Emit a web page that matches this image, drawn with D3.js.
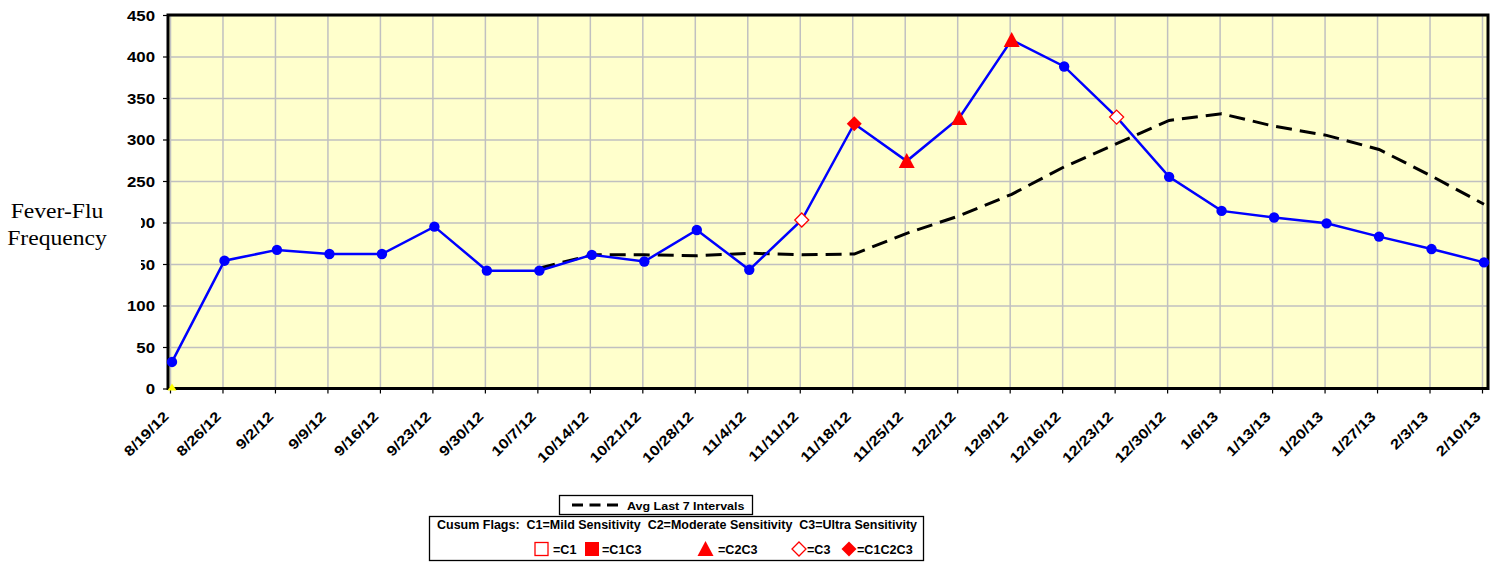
<!DOCTYPE html>
<html>
<head>
<meta charset="utf-8">
<script src="https://cdn.jsdelivr.net/npm/d3@7"></script>
<style>
  html, body { margin: 0; padding: 0; background: #fff; }
  svg { display: block; }
</style>
</head>
<body>
<svg id="chart" width="1499" height="563"></svg>
<script>
// ---------------- data ----------------
const categories = ["8/19/12","8/26/12","9/2/12","9/9/12","9/16/12","9/23/12","9/30/12","10/7/12",
  "10/14/12","10/21/12","10/28/12","11/4/12","11/11/12","11/18/12","11/25/12","12/2/12","12/9/12",
  "12/16/12","12/23/12","12/30/12","1/6/13","1/13/13","1/20/13","1/27/13","2/3/13","2/10/13"];
const feverFlu = [32,154,167,162,162,195,142,142,161,153,191,143,203,319,274,326,420,388,327,255,214,206,199,183,168,152];
const avgLast7 = [null,null,null,null,null,null,null,145,161,161,160,163,161,162,187,208,234,267,295,323,331,316,305,288,256,222];
const cusumFlags = ["","","","","","","","","","","","","C3","C1C2C3","C2C3","C2C3","C2C3","","C3","","","","","","",""];
const baselineFlagCats = ["8/19/12"];
const baselineFlagVals = [0];
const yTicks = [0,50,100,150,200,250,300,350,400,450];
const legendFlags = ["C1","C1C3","C2C3","C3","C1C2C3"];
const legendLabels = ["=C1","=C1C3","=C2C3","=C3","=C1C2C3"];
const avgLabel = "Avg Last 7 Intervals";
const cusumTitle = "Cusum Flags:  C1=Mild Sensitivity  C2=Moderate Sensitivity  C3=Ultra Sensitivity";
const yTitle = ["Fever-Flu","Frequency"];

// ---------------- layout ----------------
const svg = d3.select("#chart");
const box = {left:168, right:1488, top:15, bottom:388.5};
const x = d3.scalePoint().domain(categories).range([172, 1484]);
const y = d3.scaleLinear().domain([0,450]).range([box.bottom, box.top]);
const gridShift = -2;
const SANS = "'Liberation Sans', Arial, sans-serif";

function stretch(sel, k){
  sel.each(function(){
    const l = this.getComputedTextLength();
    this.setAttribute("textLength", l*k);
    this.setAttribute("lengthAdjust","spacingAndGlyphs");
  });
}

// background
svg.append("rect").attr("x",box.left).attr("y",box.top)
  .attr("width",box.right-box.left).attr("height",box.bottom-box.top)
  .attr("fill","#FFFFCC");

// grid
const gridY = svg.append("g").attr("transform",`translate(${box.left},0)`)
  .call(d3.axisLeft(y).tickValues(yTicks).tickSize(-(box.right-box.left)).tickFormat(""));
gridY.select(".domain").remove();
gridY.selectAll("line").attr("stroke","#C0C0C0").attr("stroke-width",1.5);

const gridX = svg.append("g").attr("transform",`translate(${gridShift},${box.bottom})`)
  .call(d3.axisBottom(x).tickSize(-(box.bottom-box.top)).tickFormat(""));
gridX.select(".domain").remove();
gridX.selectAll("line").attr("stroke","#C0C0C0").attr("stroke-width",1.5);

// axes ticks + labels
const yAxis = svg.append("g").attr("transform",`translate(${box.left},0)`)
  .call(d3.axisLeft(y).tickValues(yTicks).tickSize(5).tickPadding(8));
yAxis.select(".domain").remove();
yAxis.selectAll("line").attr("stroke","#000").attr("stroke-width",1.2);
yAxis.selectAll("text").attr("font-family",SANS).attr("font-weight","bold")
  .attr("font-size",14).attr("fill","#000").attr("dy","0.36em");
stretch(yAxis.selectAll("text"),1.2);

const xAxis = svg.append("g").attr("transform",`translate(${gridShift},${box.bottom})`)
  .call(d3.axisBottom(x).tickSize(5));
xAxis.select(".domain").remove();
xAxis.selectAll("line").attr("stroke","#000").attr("stroke-width",1.2);
xAxis.selectAll("text").attr("font-family",SANS).attr("font-weight","bold")
  .attr("font-size",14).attr("fill","#000")
  .attr("x",0).attr("y",0).attr("dy",0)
  .attr("transform","translate(-1,29) rotate(-45)")
  .style("text-anchor","end");
stretch(xAxis.selectAll("text"),1.2);

// plot border
svg.append("rect").attr("x",box.left).attr("y",box.top)
  .attr("width",box.right-box.left).attr("height",box.bottom-box.top)
  .attr("fill","none").attr("stroke","#000").attr("stroke-width",3);

// lines
const avgData = categories.map((c,i)=>({c, v:avgLast7[i]})).filter(d=>d.v!=null);
svg.append("path").datum(avgData)
  .attr("d", d3.line().x(d=>x(d.c)).y(d=>y(d.v)))
  .attr("fill","none").attr("stroke","#000").attr("stroke-width",3)
  .attr("stroke-dasharray","16,8");

const mainData = categories.map((c,i)=>({c, v:feverFlu[i], f:cusumFlags[i]}));
svg.append("path").datum(mainData)
  .attr("d", d3.line().x(d=>x(d.c)).y(d=>y(d.v)))
  .attr("fill","none").attr("stroke","#0000FF").attr("stroke-width",2.5);

// markers
function drawMarker(g, flag, cx, cy){
  if(flag===""){
    g.append("circle").attr("cx",cx).attr("cy",cy).attr("r",5.2).attr("fill","#0000FF");
  } else if(flag==="C2C3"){
    g.append("path").attr("d",`M${cx},${cy-8}L${cx+8},${cy+7}L${cx-8},${cy+7}Z`).attr("fill","#FF0000");
  } else if(flag==="C3"){
    g.append("path").attr("d",`M${cx},${cy-7}L${cx+7},${cy}L${cx},${cy+7}L${cx-7},${cy}Z`)
      .attr("fill","#fff").attr("stroke","#FF0000").attr("stroke-width",1.3);
  } else if(flag==="C1C2C3"){
    g.append("path").attr("d",`M${cx},${cy-7.5}L${cx+7.5},${cy}L${cx},${cy+7.5}L${cx-7.5},${cy}Z`).attr("fill","#FF0000");
  } else if(flag==="C1"){
    g.append("rect").attr("x",cx-6.5).attr("y",cy-6.5).attr("width",13).attr("height",13)
      .attr("fill","#fff").attr("stroke","#FF0000").attr("stroke-width",1.3);
  } else if(flag==="C1C3"){
    g.append("rect").attr("x",cx-7).attr("y",cy-7).attr("width",14).attr("height",14).attr("fill","#FF0000");
  }
}
const mk = svg.append("g");
mainData.forEach(d=>drawMarker(mk, d.f, x(d.c), y(d.v)));

// small yellow baseline flag
baselineFlagCats.forEach((c,i)=>{
  const cx=x(c), cy=y(baselineFlagVals[i]);
  svg.append("path").attr("d",`M${cx},${cy-5}L${cx+4.5},${cy+2}L${cx-4.5},${cy+2}Z`).attr("fill","#FFFF00");
});

// y title with white box
svg.append("rect").attr("x",0).attr("y",192).attr("width",141).attr("height",84).attr("fill","#fff");
const yt = svg.append("g");
yTitle.forEach((t,i)=>{
  yt.append("text").attr("x",57).attr("y",218+i*27).attr("text-anchor","middle")
    .attr("font-family","'Liberation Serif','Times New Roman',serif").attr("font-size",20)
    .attr("fill","#000").text(t);
});
stretch(yt.selectAll("text"),1.18);

// legend 1
const lg1 = svg.append("g");
lg1.append("rect").attr("x",559.5).attr("y",495.5).attr("width",193).attr("height",19)
  .attr("fill","#fff").attr("stroke","#000").attr("stroke-width",1.3);
lg1.append("line").attr("x1",572).attr("x2",618).attr("y1",505).attr("y2",505)
  .attr("stroke","#000").attr("stroke-width",3).attr("stroke-dasharray","11,6.5");
lg1.append("text").attr("x",627).attr("y",509.5).attr("font-family",SANS).attr("font-weight","bold")
  .attr("font-size",11.5).attr("fill","#000").text(avgLabel);
stretch(lg1.selectAll("text"),1.085);

// legend 2
const lg2 = svg.append("g");
lg2.append("rect").attr("x",429.5).attr("y",516.5).attr("width",494).attr("height",44)
  .attr("fill","#fff").attr("stroke","#000").attr("stroke-width",1.3);
lg2.append("text").attr("x",437).attr("y",529).attr("font-family",SANS).attr("font-weight","bold")
  .attr("font-size",12).attr("fill","#000").style("white-space","pre").attr("xml:space","preserve")
  .attr("class","ctitle").text(cusumTitle);
const legMarkerX = [541.5, 592, 705.5, 799, 849];
const legTextX = [553, 602, 718, 807, 857];
legendFlags.forEach((f,i)=>{
  drawMarker(lg2, f, legMarkerX[i], 549);
  lg2.append("text").attr("x",legTextX[i]).attr("y",553.5).attr("font-family",SANS)
    .attr("font-weight","bold").attr("font-size",12).attr("fill","#000")
    .attr("class","clab").text(legendLabels[i]);
});
lg2.selectAll("text").each(function(){
  const l=this.getComputedTextLength();
  const target = this.getAttribute("class")==="ctitle" ? 480 : l*1.05;
  this.setAttribute("textLength", target);
  this.setAttribute("lengthAdjust","spacingAndGlyphs");
});
</script>
</body>
</html>
